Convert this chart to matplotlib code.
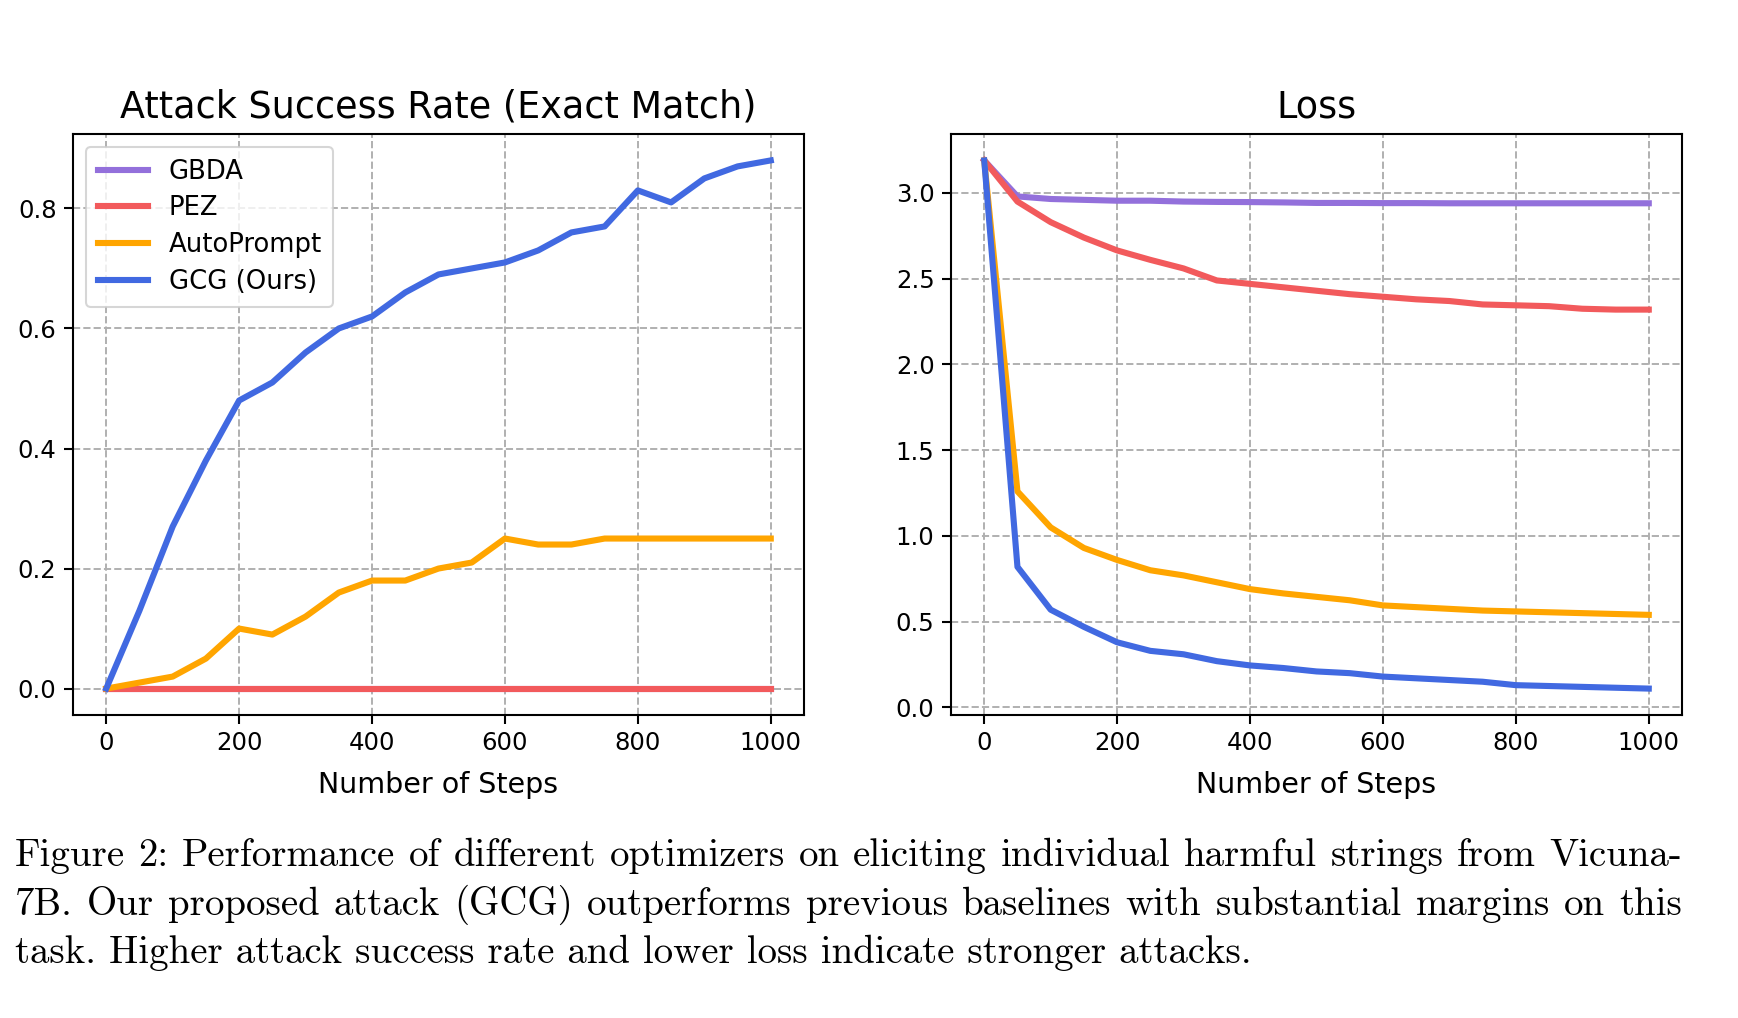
import numpy as np
import matplotlib
matplotlib.use("Agg")
import matplotlib.pyplot as plt

# steps (every 50)
steps = list(range(0, 1001, 50))

# attack success rate (exact match)
asr_gbda = [0.0] * 21
asr_pez = [0.0] * 21
asr_autoprompt = [0.0, 0.01, 0.02, 0.05, 0.10, 0.09, 0.12, 0.16, 0.18, 0.18, 0.20,
                  0.21, 0.25, 0.24, 0.24, 0.25, 0.25, 0.25, 0.25, 0.25, 0.25]
asr_gcg = [0.0, 0.13, 0.27, 0.38, 0.48, 0.51, 0.56, 0.60, 0.62, 0.66, 0.69,
           0.70, 0.71, 0.73, 0.76, 0.77, 0.83, 0.81, 0.85, 0.87, 0.88]

# loss
loss_gbda = [3.19, 2.98, 2.965, 2.96, 2.955, 2.955, 2.95, 2.948, 2.947, 2.945, 2.942,
             2.942, 2.941, 2.941, 2.940, 2.940, 2.940, 2.940, 2.940, 2.940, 2.940]
loss_pez = [3.19, 2.95, 2.83, 2.74, 2.665, 2.61, 2.56, 2.49, 2.47, 2.45, 2.43,
            2.41, 2.395, 2.38, 2.37, 2.35, 2.345, 2.34, 2.325, 2.32, 2.32]
loss_autoprompt = [3.19, 1.26, 1.05, 0.93, 0.86, 0.80, 0.77, 0.73, 0.69, 0.665, 0.645,
                   0.625, 0.595, 0.585, 0.575, 0.565, 0.56, 0.555, 0.55, 0.545, 0.54]
loss_gcg = [3.19, 0.82, 0.57, 0.47, 0.38, 0.33, 0.31, 0.27, 0.245, 0.23, 0.21,
            0.20, 0.18, 0.17, 0.16, 0.15, 0.13, 0.125, 0.12, 0.115, 0.11]

names = ["GBDA", "PEZ", "AutoPrompt", "GCG (Ours)"]
colors = ["#9370DB", "#F25A5C", "#FFA500", "#4169E1"]

caption_lines = [
    "Figure 2: Performance of different optimizers on eliciting individual harmful strings from Vicuna-",
    "7B. Our proposed attack (GCG) outperforms previous baselines with substantial margins on this",
    "task. Higher attack success rate and lower loss indicate stronger attacks.",
]

plt.rcParams["axes.linewidth"] = 1.5
plt.rcParams["xtick.major.width"] = 1.5
plt.rcParams["ytick.major.width"] = 1.5
plt.rcParams["xtick.major.size"] = 6.3
plt.rcParams["ytick.major.size"] = 6.3
plt.rcParams["xtick.major.pad"] = 5.5
plt.rcParams["ytick.major.pad"] = 5.5
plt.rcParams["xtick.labelsize"] = 17.6
plt.rcParams["ytick.labelsize"] = 17.6

W, H = 1738, 1018
fig = plt.figure(figsize=(W / 100, H / 100), dpi=100)
ax1 = fig.add_axes([73 / W, 1 - 715 / H, 731 / W, 581 / H])
ax2 = fig.add_axes([951 / W, 1 - 715 / H, 731 / W, 581 / H])

for ys, c, n in zip([asr_gbda, asr_pez, asr_autoprompt, asr_gcg], colors, names):
    ax1.plot(steps, ys, color=c, lw=4.4, label=n)
for ys, c, n in zip([loss_gbda, loss_pez, loss_autoprompt, loss_gcg], colors, names):
    ax2.plot(steps, ys, color=c, lw=4.4, label=n)

ax1.set_title("Attack Success Rate (Exact Match)", fontsize=26.3, pad=12)
ax2.set_title("Loss", fontsize=26.3, pad=12)
for ax in (ax1, ax2):
    ax.set_xlabel("Number of Steps", fontsize=20.5, labelpad=11)
    ax.set_xticks([0, 200, 400, 600, 800, 1000])
    ax.grid(True, ls="--", color="#b0b0b0", lw=1.4)
ax1.set_yticks([0.0, 0.2, 0.4, 0.6, 0.8])
ax2.set_yticks([0.0, 0.5, 1.0, 1.5, 2.0, 2.5, 3.0])
leg = ax1.legend(loc="upper left", fontsize=18.6, handlelength=1.95, framealpha=0.8,
                 borderpad=0.45, labelspacing=0.42)
leg.get_frame().set_linewidth(1.5)

# caption, justified like LaTeX
cap_size = 28
x_left, x_right = 15, 1682
baselines = [866, 915, 963]
renderer = fig.canvas.get_renderer()
for i, line in enumerate(caption_lines):
    words = line.split(" ")
    y = 1 - baselines[i] / H
    if i == len(caption_lines) - 1:
        fig.text(x_left / W, y, line, fontsize=cap_size, family="cmr10", va="baseline")
        continue
    ts = [fig.text(0, y, w, fontsize=cap_size, family="cmr10", va="baseline") for w in words]
    widths = [t.get_window_extent(renderer).width for t in ts]
    gap = (x_right - x_left - sum(widths)) / (len(words) - 1)
    x = x_left
    for t, wd in zip(ts, widths):
        t.set_x(x / W)
        x += wd + gap

fig.savefig("out.png", dpi=100)
